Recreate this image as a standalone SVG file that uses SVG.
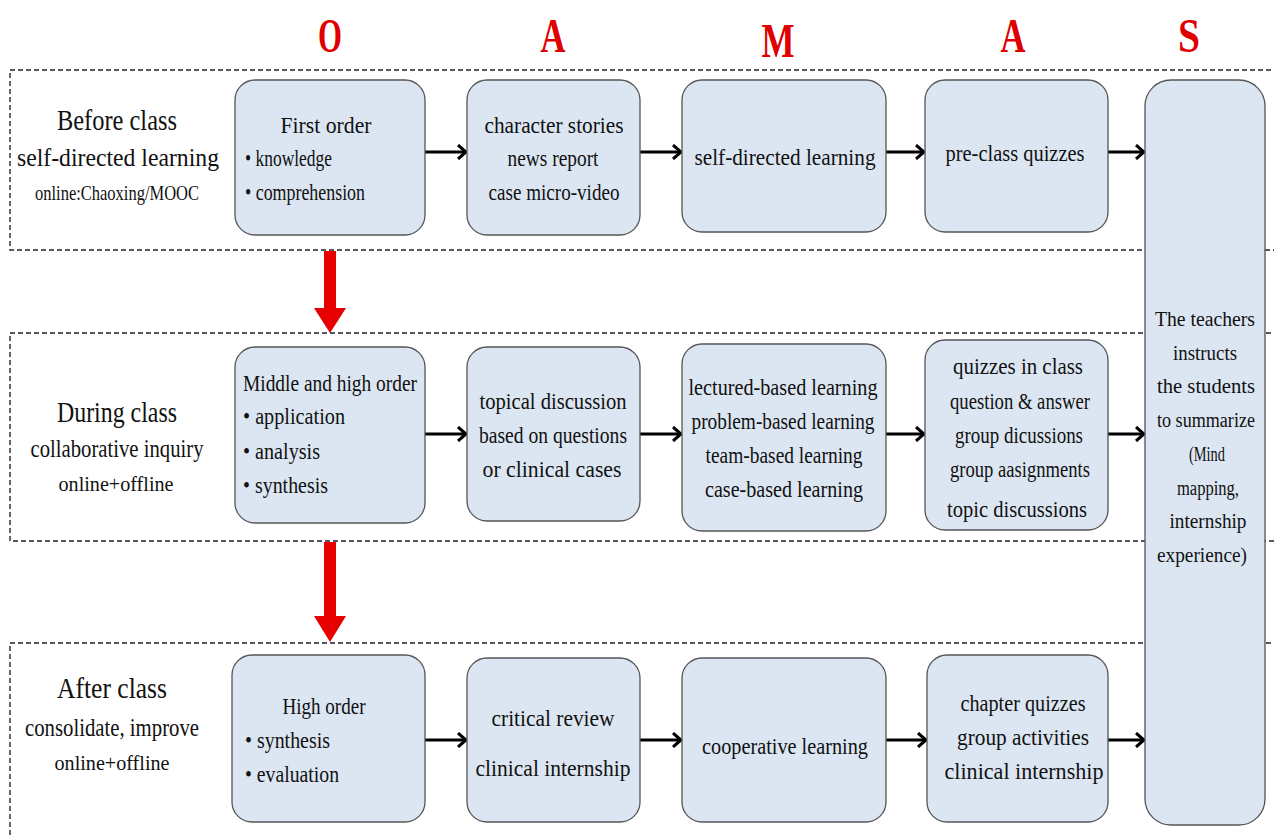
<svg xmlns="http://www.w3.org/2000/svg" width="1274" height="835" viewBox="0 0 1274 835">
<style>
.band{fill:none;stroke:#223;stroke-width:1.4;stroke-dasharray:5 3}
.box{fill:#dce6f2;stroke:#555;stroke-width:1.3}
.t{font-family:"Liberation Serif",serif;font-size:24px;fill:#111;text-anchor:middle}
.s{font-family:"Liberation Serif",serif;font-size:20px;fill:#111;text-anchor:middle}
.b{font-family:"Liberation Serif",serif;font-size:24px;fill:#111;text-anchor:start}
.h1{font-family:"Liberation Serif",serif;font-size:30px;fill:#111;text-anchor:middle}
.h2{font-family:"Liberation Serif",serif;font-size:26px;fill:#111;text-anchor:middle}
.h3{font-family:"Liberation Serif",serif;font-size:22px;fill:#111;text-anchor:middle}
.hd{font-family:"Liberation Serif",serif;font-size:48px;font-weight:bold;fill:#e00000;text-anchor:middle}
.conn{stroke:#000;stroke-width:3;fill:none;marker-end:url(#ah)}
.red{fill:#e60000}
</style>
<defs>
<marker id="ah" markerWidth="12" markerHeight="16" refX="10" refY="8" orient="auto" markerUnits="userSpaceOnUse">
<path d="M2,1 L10,8 L2,15" fill="none" stroke="#000" stroke-width="3"/>
</marker>
</defs>

<g id="headers">
<text class="hd" x="330" y="52" textLength="24" lengthAdjust="spacingAndGlyphs">O</text>
<text class="hd" x="553" y="52" textLength="25" lengthAdjust="spacingAndGlyphs">A</text>
<text class="hd" x="778" y="57" textLength="33" lengthAdjust="spacingAndGlyphs">M</text>
<text class="hd" x="1013" y="52" textLength="25" lengthAdjust="spacingAndGlyphs">A</text>
<text class="hd" x="1189" y="52" textLength="22" lengthAdjust="spacingAndGlyphs">S</text>
</g>

<g id="bands">
<rect class="band" x="10" y="70" width="1280" height="180"/>
<rect class="band" x="10" y="333" width="1280" height="208"/>
<rect class="band" x="10" y="643" width="1280" height="220"/>
</g>

<g id="row-labels">
<text class="h1" x="117" y="130" textLength="120" lengthAdjust="spacingAndGlyphs">Before class</text>
<text class="h2" x="118" y="166" textLength="202" lengthAdjust="spacingAndGlyphs">self-directed learning</text>
<text class="h3" x="117" y="200" textLength="164" lengthAdjust="spacingAndGlyphs">online:Chaoxing/MOOC</text>
<text class="h1" x="117" y="422" textLength="120" lengthAdjust="spacingAndGlyphs">During class</text>
<text class="h2" x="117" y="457" textLength="173" lengthAdjust="spacingAndGlyphs">collaborative inquiry</text>
<text class="h3" x="116" y="491" textLength="115" lengthAdjust="spacingAndGlyphs">online+offline</text>
<text class="h1" x="112" y="698" textLength="110" lengthAdjust="spacingAndGlyphs">After class</text>
<text class="h2" x="112" y="736" textLength="174" lengthAdjust="spacingAndGlyphs">consolidate, improve</text>
<text class="h3" x="112" y="770" textLength="115" lengthAdjust="spacingAndGlyphs">online+offline</text>
</g>

<g id="connectors">
<line class="conn" x1="425" y1="152" x2="466" y2="152"/>
<line class="conn" x1="640" y1="152" x2="681" y2="152"/>
<line class="conn" x1="886" y1="152" x2="924" y2="152"/>
<line class="conn" x1="1108" y1="152" x2="1144" y2="152"/>
<line class="conn" x1="425" y1="434" x2="466" y2="434"/>
<line class="conn" x1="640" y1="434" x2="681" y2="434"/>
<line class="conn" x1="886" y1="434" x2="924" y2="434"/>
<line class="conn" x1="1108" y1="434" x2="1144" y2="434"/>
<line class="conn" x1="425" y1="740" x2="466" y2="740"/>
<line class="conn" x1="640" y1="740" x2="681" y2="740"/>
<line class="conn" x1="886" y1="740" x2="926" y2="740"/>
<line class="conn" x1="1108" y1="740" x2="1144" y2="740"/>
<path class="red" d="M324,251 H336 V308 H346 L330,333 L314,308 H324 Z"/>
<path class="red" d="M324,542 H336 V616 H346 L330,642 L314,616 H324 Z"/>
</g>

<g id="node-summary">
<rect class="box" x="1145" y="80" width="120" height="745" rx="26"/>
<text class="s" x="1205" y="326" textLength="100" lengthAdjust="spacingAndGlyphs">The teachers</text>
<text class="s" x="1205" y="360" textLength="64" lengthAdjust="spacingAndGlyphs">instructs</text>
<text class="s" x="1206" y="393" textLength="98" lengthAdjust="spacingAndGlyphs">the students</text>
<text class="s" x="1206" y="427" textLength="98" lengthAdjust="spacingAndGlyphs">to summarize</text>
<text class="s" x="1207" y="461" textLength="36" lengthAdjust="spacingAndGlyphs">(Mind</text>
<text class="s" x="1208" y="495" textLength="62" lengthAdjust="spacingAndGlyphs">mapping,</text>
<text class="s" x="1208" y="528" textLength="77" lengthAdjust="spacingAndGlyphs">internship</text>
<text class="s" x="1202" y="562" textLength="90" lengthAdjust="spacingAndGlyphs">experience)</text>
</g>

<g id="node-o1">
<rect class="box" x="235" y="80" width="190" height="155" rx="20"/>
<text class="t" x="326" y="133" textLength="91" lengthAdjust="spacingAndGlyphs">First order</text>
<text class="b" x="245" y="166" textLength="87" lengthAdjust="spacingAndGlyphs">• knowledge</text>
<text class="b" x="245" y="200" textLength="120" lengthAdjust="spacingAndGlyphs">• comprehension</text>
</g>
<g id="node-a1">
<rect class="box" x="467" y="80" width="173" height="155" rx="20"/>
<text class="t" x="554" y="133" textLength="139" lengthAdjust="spacingAndGlyphs">character stories</text>
<text class="t" x="553" y="166" textLength="91" lengthAdjust="spacingAndGlyphs">news report</text>
<text class="t" x="554" y="200" textLength="131" lengthAdjust="spacingAndGlyphs">case micro-video</text>
</g>
<g id="node-m1">
<rect class="box" x="682" y="80" width="204" height="152" rx="20"/>
<text class="t" x="785" y="165" textLength="181" lengthAdjust="spacingAndGlyphs">self-directed learning</text>
</g>
<g id="node-a21">
<rect class="box" x="925" y="80" width="183" height="152" rx="20"/>
<text class="t" x="1015" y="161" textLength="139" lengthAdjust="spacingAndGlyphs">pre-class quizzes</text>
</g>

<g id="node-o2">
<rect class="box" x="235" y="347" width="190" height="176" rx="20"/>
<text class="b" x="243" y="391" textLength="174" lengthAdjust="spacingAndGlyphs">Middle and high order</text>
<text class="b" x="243" y="424" textLength="102" lengthAdjust="spacingAndGlyphs">• application</text>
<text class="b" x="243" y="459" textLength="77" lengthAdjust="spacingAndGlyphs">• analysis</text>
<text class="b" x="243" y="493" textLength="85" lengthAdjust="spacingAndGlyphs">• synthesis</text>
</g>
<g id="node-a2">
<rect class="box" x="467" y="347" width="173" height="174" rx="20"/>
<text class="t" x="553" y="409" textLength="147" lengthAdjust="spacingAndGlyphs">topical discussion</text>
<text class="t" x="553" y="443" textLength="148" lengthAdjust="spacingAndGlyphs">based on questions</text>
<text class="t" x="552" y="477" textLength="139" lengthAdjust="spacingAndGlyphs">or clinical cases</text>
</g>
<g id="node-m2">
<rect class="box" x="682" y="344" width="204" height="187" rx="20"/>
<text class="t" x="783" y="395" textLength="189" lengthAdjust="spacingAndGlyphs">lectured-based learning</text>
<text class="t" x="783" y="429" textLength="183" lengthAdjust="spacingAndGlyphs">problem-based learning</text>
<text class="t" x="784" y="463" textLength="157" lengthAdjust="spacingAndGlyphs">team-based learning</text>
<text class="t" x="784" y="497" textLength="158" lengthAdjust="spacingAndGlyphs">case-based learning</text>
</g>
<g id="node-a22">
<rect class="box" x="925" y="340" width="183" height="190" rx="20"/>
<text class="t" x="1018" y="374" textLength="130" lengthAdjust="spacingAndGlyphs">quizzes in class</text>
<text class="t" x="1020" y="409" textLength="140" lengthAdjust="spacingAndGlyphs">question &amp; answer</text>
<text class="t" x="1019" y="443" textLength="128" lengthAdjust="spacingAndGlyphs">group dicussions</text>
<text class="t" x="1020" y="477" textLength="140" lengthAdjust="spacingAndGlyphs">group aasignments</text>
<text class="t" x="1017" y="517" textLength="140" lengthAdjust="spacingAndGlyphs">topic discussions</text>
</g>

<g id="node-o3">
<rect class="box" x="232" y="655" width="193" height="167" rx="20"/>
<text class="t" x="324" y="714" textLength="83" lengthAdjust="spacingAndGlyphs">High order</text>
<text class="b" x="245" y="748" textLength="85" lengthAdjust="spacingAndGlyphs">• synthesis</text>
<text class="b" x="245" y="782" textLength="94" lengthAdjust="spacingAndGlyphs">• evaluation</text>
</g>
<g id="node-a3">
<rect class="box" x="467" y="658" width="173" height="164" rx="20"/>
<text class="t" x="553" y="726" textLength="123" lengthAdjust="spacingAndGlyphs">critical review</text>
<text class="t" x="553" y="776" textLength="155" lengthAdjust="spacingAndGlyphs">clinical internship</text>
</g>
<g id="node-m3">
<rect class="box" x="682" y="658" width="204" height="164" rx="20"/>
<text class="t" x="785" y="754" textLength="166" lengthAdjust="spacingAndGlyphs">cooperative learning</text>
</g>
<g id="node-a23">
<rect class="box" x="927" y="655" width="181" height="167" rx="20"/>
<text class="t" x="1023" y="711" textLength="125" lengthAdjust="spacingAndGlyphs">chapter quizzes</text>
<text class="t" x="1023" y="745" textLength="132" lengthAdjust="spacingAndGlyphs">group activities</text>
<text class="t" x="1024" y="779" textLength="159" lengthAdjust="spacingAndGlyphs">clinical internship</text>
</g>
</svg>
